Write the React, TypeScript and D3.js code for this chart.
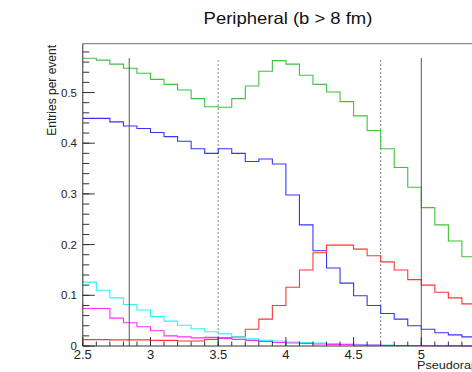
import React from "react";
import * as d3 from "d3";

// bin lower edges start at 2.4 (first bin lies just left of the visible axis range)
const binStart = 2.4;
const binWidth = 0.1;

const green = [0.5675, 0.5675, 0.564, 0.556, 0.548, 0.538, 0.526, 0.516, 0.505, 0.488, 0.472, 0.471, 0.488, 0.513, 0.542, 0.563, 0.556, 0.534, 0.516, 0.501, 0.482, 0.454, 0.425, 0.389, 0.352, 0.313, 0.273, 0.239, 0.207, 0.176, 0.15];
const blue = [0.449, 0.449, 0.449, 0.442, 0.434, 0.429, 0.421, 0.413, 0.404, 0.389, 0.38, 0.389, 0.38, 0.364, 0.369, 0.359, 0.298, 0.239, 0.188, 0.154, 0.124, 0.099, 0.08, 0.064, 0.053, 0.04, 0.033, 0.026, 0.022, 0.018, 0.015];
const red = [0.013, 0.0125, 0.0125, 0.012, 0.012, 0.012, 0.011, 0.011, 0.01, 0.01, 0.013, 0.016, 0.018, 0.033, 0.053, 0.08, 0.116, 0.15, 0.184, 0.199, 0.199, 0.191, 0.178, 0.166, 0.15, 0.131, 0.12, 0.106, 0.095, 0.083, 0.075];
const cyan = [0.142, 0.126, 0.11, 0.095, 0.082, 0.071, 0.058, 0.049, 0.041, 0.034, 0.028, 0.024, 0.018, 0.014, 0.011, 0.01, 0.008, 0.007, 0.006, 0.005, 0.004, 0.003, 0.002, 0.002, 0.001, 0.001, 0.001, 0.0005, 0.0005, 0.0005, 0.0];
const magenta = [0.083, 0.074, 0.074, 0.055, 0.046, 0.038, 0.03, 0.02, 0.018, 0.016, 0.017, 0.015, 0.013, 0.011, 0.009, 0.007, 0.006, 0.005, 0.004, 0.003, 0.003, 0.002, 0.002, 0.001, 0.001, 0.001, 0.0005, 0.0005, 0.0005, 0.0, 0.0];

const seriesList = [
  { name: "green", values: green, color: "#3fc23f" },
  { name: "blue", values: blue, color: "#3535ff" },
  { name: "red", values: red, color: "#ff3535" },
  { name: "cyan", values: cyan, color: "#2ef5f5" },
  { name: "magenta", values: magenta, color: "#ff2eff" },
];

const solidLines = [2.843, 5.0];
const dottedLines = [3.5, 4.7];
const linesTop = 0.568;

const xTicks = [2.5, 3, 3.5, 4, 4.5, 5];
const xTickLabels = ["2.5", "3", "3.5", "4", "4.5", "5"];
const yTicks = [0, 0.1, 0.2, 0.3, 0.4, 0.5];
const yTickLabels = ["0", "0.1", "0.2", "0.3", "0.4", "0.5"];

const title = "Peripheral (b > 8 fm)";
const xTitle = "Pseudorapidity";
const yTitle = "Entries per event";

const W = 472;
const H = 372;
const left = 82.8;
const pxPerUnit = 135.4;
const bottom = 346;
const top = 43.7;

export default function App() {
  const x = d3.scaleLinear().domain([2.5, 5.5]).range([left, left + 3 * pxPerUnit]);
  const y = d3.scaleLinear().domain([0, 0.5963]).range([bottom, top]);

  const line = d3
    .line<[number, number]>()
    .x((d) => x(d[0]))
    .y((d) => y(d[1]))
    .curve(d3.curveStepAfter);

  const pathFor = (vals: number[]) => {
    const pts: [number, number][] = vals.map((v, i) => [binStart + i * binWidth, v]);
    pts.push([binStart + vals.length * binWidth, vals[vals.length - 1]]);
    return line(pts) || "";
  };

  const xMinor = d3.range(25, 56).map((k) => k / 10);
  const yMinor = d3.range(0, 30).map((k) => k * 0.02);
  const font = "'Liberation Sans', Arial, Helvetica, sans-serif";

  return (
    <svg
      width={W}
      height={H}
      style={{ position: "absolute", left: 0, top: 0, background: "#fff" }}
      fontFamily={font}
    >
      <defs>
        <clipPath id="plotclip">
          <rect x={left} y={top} width={W} height={bottom - top + 1} />
        </clipPath>
      </defs>
      <rect x={0} y={0} width={W} height={H} fill="#fff" />
      <text transform="translate(288,23.5) scale(1.12,1)" fontSize={16.5} textAnchor="middle" fill="#111">
        {title}
      </text>

      {/* frame top */}
      <line x1={left} x2={W} y1={top} y2={top} stroke="#8a8a8a" strokeWidth={1.2} />

      <g clipPath="url(#plotclip)">
        {dottedLines.map((v) => (
          <line key={"d" + v} x1={x(v)} x2={x(v)} y1={y(0)} y2={y(linesTop)} stroke="#888" strokeWidth={1} strokeDasharray="2,2" />
        ))}
        {seriesList.map((s) => (
          <path key={s.name} d={pathFor(s.values)} fill="none" stroke={s.color} strokeWidth={1.1} />
        ))}
        {solidLines.map((v) => (
          <line key={"s" + v} x1={x(v)} x2={x(v)} y1={y(0)} y2={y(linesTop)} stroke="#555" strokeWidth={1} />
        ))}
      </g>

      {/* axes */}
      <line x1={left} x2={left} y1={top} y2={bottom} stroke="#333" strokeWidth={1} />
      <line x1={left} x2={W} y1={bottom} y2={bottom} stroke="#333" strokeWidth={1} />

      {yMinor.map((v) => (
        <line key={"ym" + v} x1={left} x2={left + 6.5} y1={y(v)} y2={y(v)} stroke="#333" strokeWidth={1} />
      ))}
      {yTicks.map((v, i) => (
        <g key={"yt" + v}>
          <line x1={left} x2={left + 12} y1={y(v)} y2={y(v)} stroke="#333" strokeWidth={1} />
          <text x={77} y={y(v) + 4} fontSize={11.5} textAnchor="end" fill="#222">
            {yTickLabels[i]}
          </text>
        </g>
      ))}

      {xMinor.map((v) => (
        <line key={"xm" + v} x1={x(v)} x2={x(v)} y1={bottom} y2={bottom - 4.5} stroke="#333" strokeWidth={1} />
      ))}
      {xTicks.map((v, i) => (
        <g key={"xt" + v}>
          <line x1={x(v)} x2={x(v)} y1={bottom} y2={bottom - 9} stroke="#333" strokeWidth={1} />
          <text x={x(v)} y={358.5} fontSize={13} textAnchor="middle" fill="#222">
            {xTickLabels[i]}
          </text>
        </g>
      ))}

      <text transform="translate(417,369) scale(1.15,1)" fontSize={11} fill="#222">
        {xTitle}
      </text>
      <text
        transform={`translate(56,45) rotate(-90)`}
        fontSize={12}
        textAnchor="end"
        fill="#222"
      >
        {yTitle}
      </text>
    </svg>
  );
}
